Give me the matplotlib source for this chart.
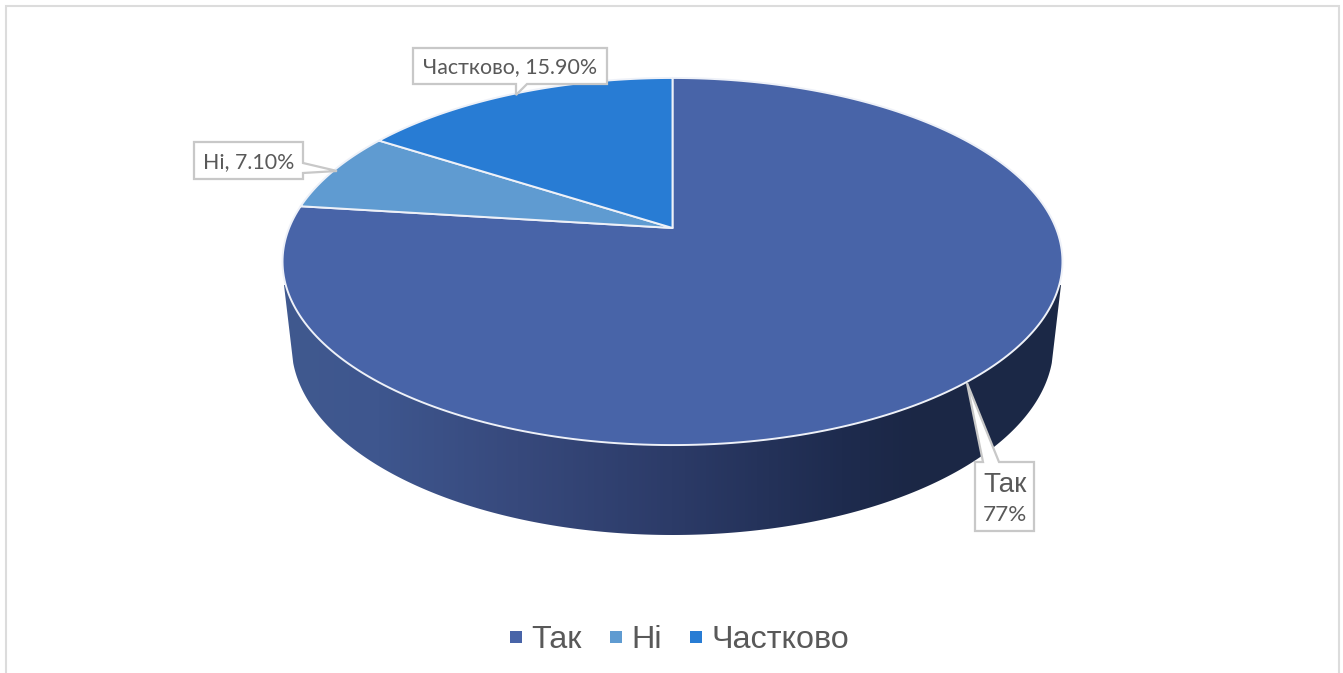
import numpy as np
import matplotlib
matplotlib.use("Agg")
import matplotlib.pyplot as plt
from matplotlib.colors import LinearSegmentedColormap
from matplotlib.lines import Line2D
from matplotlib.patches import Polygon
from matplotlib.path import Path
from matplotlib.transforms import Affine2D, Transform

categories = ["Так", "Ні", "Частково"]
values = [77.0, 7.1, 15.9]
colors = ["#4864A8", "#5F9BD1", "#287CD4"]

W, H = 1343, 673
CX, RX3D = 672.5, 383.4
APEX_Y, A_Y, K = 228.0, -135.8, 0.1826


class PieProjection(Transform):
    """Perspective mapping of the unit pie onto the tilted top surface (pixels)."""
    input_dims = output_dims = 2
    is_separable = False
    has_inverse = False

    def transform_non_affine(self, xy):
        xy = np.asarray(xy, float)
        u, v = xy[:, 0], xy[:, 1]
        d = 1 + K * v
        return np.column_stack([CX + RX3D * u / d, (A_Y * v + APEX_Y) / d])

    def transform_path_non_affine(self, path):
        polys = path.to_polygons(Affine2D().scale(2000), closed_only=False)
        verts = np.vstack(polys) / 2000
        return Path(self.transform_non_affine(verts))


plt.rcParams["font.family"] = ["Liberation Sans", "DejaVu Sans"]
fig = plt.figure(figsize=(W / 100, H / 100), dpi=100, facecolor="white")
ax = fig.add_axes([0, 0, 1, 1])

wedges, _ = ax.pie(values, colors=colors, startangle=90, counterclock=False,
                   wedgeprops={"edgecolor": "#EEF1F8", "linewidth": 1.4})
proj = PieProjection()
for w in wedges:
    w.set_transform(proj + ax.transData)
    w.set_zorder(3)
    w.set_joinstyle("round")

# side wall with horizontal shading
wall_t = np.linspace(np.arcsin(18 / 190), np.pi - np.arcsin(18 / 190), 300)
bot_x = CX - 381 * np.cos(wall_t)
bot_y = 345 + 190 * np.sin(wall_t)
wall_xy = np.vstack([[284, 285], np.column_stack([bot_x, bot_y]), [1061, 285]])
cmap = LinearSegmentedColormap.from_list("wall", [
    (0.00, "#40598F"), (0.12, "#3E568E"), (0.30, "#37497C"), (0.50, "#2C3B68"),
    (0.72, "#1E2B4E"), (0.82, "#1B2745"), (1.00, "#1C2947")])
im = ax.imshow(np.linspace(0, 1, 256)[None, :], cmap=cmap, aspect="auto",
               extent=(284, 1061, 540, 280), zorder=1, interpolation="bilinear")
im.set_clip_path(Polygon(wall_xy, closed=True, transform=ax.transData))

# frame
ax.set_aspect("auto")
ax.set_xlim(0, W)
ax.set_ylim(H, 0)
ax.axis("off")
FRAME = "#DCDCDC"
ax.plot([6, 6, 1339, 1339], [H, 6, 6, H], color=FRAME, lw=1.5, solid_joinstyle="miter", zorder=0)

# callouts
BOX_E = "#C8C8C8"
TXT = "#595959"
FONT = ["Lato", "Noto Sans", "DejaVu Sans"]
callouts = [
    [(413, 48), (607, 48), (607, 84), (527, 84), (516, 95), (516, 84), (413, 84)],
    [(194, 142), (303, 142), (303, 163), (337, 171), (303, 173), (303, 179), (194, 179)],
    [(975, 462), (983, 462), (967, 383), (999, 462), (1034, 462), (1034, 531), (975, 531)],
]
for pts in callouts:
    ax.add_patch(Polygon(pts, closed=True, fc="white", ec=BOX_E, lw=1.6, zorder=4,
                         joinstyle="miter"))
ax.text(510, 67, f"{categories[2]}, {values[2]:.2f}%", ha="center", va="center",
        fontsize=15.4, color=TXT, family=FONT, zorder=5)
ax.text(248.5, 162, f"{categories[1]}, {values[1]:.2f}%", ha="center", va="center",
        fontsize=15.4, color=TXT, family=FONT, zorder=5)
ax.text(1005, 485, categories[0], ha="center", va="center", fontsize=20, color=TXT, zorder=5)
ax.text(1005, 515, f"{values[0]:.0f}%", ha="center", va="center", fontsize=16.2,
        color=TXT, family=FONT, zorder=5)

# legend
handles = [Line2D([], [], ls="none", marker="s", ms=8, mew=0, mfc=c, mec=c) for c in colors]
ax.legend(handles, categories, loc="center", bbox_to_anchor=(679.5 / W, 1 - 640 / H),
          bbox_transform=fig.transFigure, ncol=3, frameon=False, fontsize=23.3,
          labelcolor=TXT, handlelength=0.4, handletextpad=0.28, columnspacing=0.85,
          borderpad=0, borderaxespad=0)

fig.savefig("out.png", dpi=100, facecolor="white")
